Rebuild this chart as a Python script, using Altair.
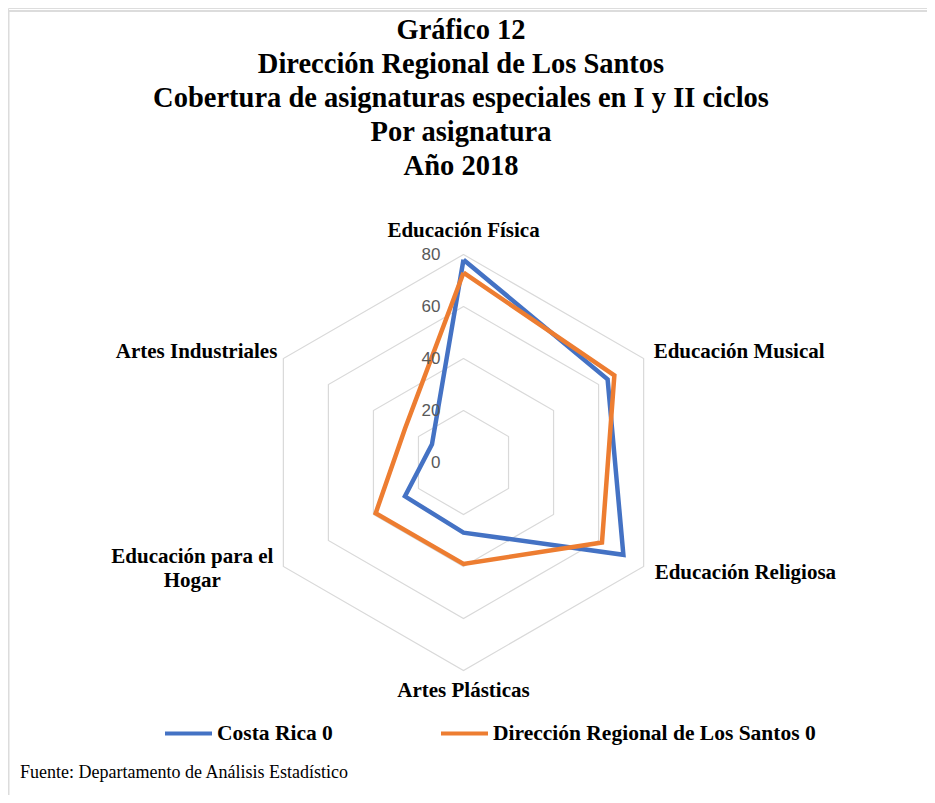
import altair as alt
import pandas as pd

# ---------------- data ----------------
categories = ["Educación Física", "Educación Musical", "Educación Religiosa",
              "Artes Plásticas", "Educación para el Hogar", "Artes Industriales"]
costa_rica = [78, 64, 71, 27, 26, 14]
los_santos = [73, 67, 61.5, 39, 39, 26]
series_names = ["Costa Rica 0", "Dirección Regional de Los Santos 0"]
ring_values = [20, 40, 60, 80]
tick_values = [0, 20, 40, 60, 80]
title_lines = ["Gráfico 12", "Dirección Regional de Los Santos",
               "Cobertura  de asignaturas  especiales en I y II ciclos",
               "Por asignatura", "Año 2018"]
source_text = "Fuente: Departamento de Análisis  Estadístico"

colors = ["#4472C4", "#ED7D31"]
n = len(categories)

# long tables (closing each polygon by repeating the first category)
rows = []
for name, vals in zip(series_names, [costa_rica, los_santos]):
    for i in range(n + 1):
        rows.append({"serie": name, "idx": i, "cat": categories[i % n], "value": vals[i % n]})
series_df = pd.DataFrame(rows)

grid_rows = []
for r in ring_values:
    for i in range(n + 1):
        grid_rows.append({"ring": r, "idx": i})
grid_df = pd.DataFrame(grid_rows)

tick_df = pd.DataFrame({"value": tick_values})
cat_df = pd.DataFrame({"cat": categories, "idx": list(range(n)), "value": 80})

# ---------------- geometry ----------------
W, H = 919, 787
PX = 2.6               # pixels per unit
CX, CY = 455.5, 454.5  # centre in plot coordinates
x_dom = [-CX / PX, (W - CX) / PX]
y_dom = [-(H - CY) / PX, CY / PX]
xs = alt.Scale(domain=x_dom, nice=False, zero=False)
ys = alt.Scale(domain=y_dom, nice=False, zero=False)

X = alt.X("px:Q", scale=xs, axis=None)
Y = alt.Y("py:Q", scale=ys, axis=None)

grid = alt.Chart(grid_df).mark_line(color="#D9D9D9", strokeWidth=1.2).encode(
    x=X, y=Y, detail="ring:N", order="idx:Q"
).transform_calculate(ang="datum.idx * PI / 3").transform_calculate(
    px="datum.ring * sin(datum.ang)", py="datum.ring * cos(datum.ang)")

lines = alt.Chart(series_df).mark_line(strokeWidth=4.5, strokeJoin="miter").encode(
    x=X, y=Y, order="idx:Q",
    color=alt.Color("serie:N",
                    scale=alt.Scale(domain=series_names, range=colors),
                    legend=alt.Legend(title=None, orient="none", direction="horizontal",
                                      columns=2, legendX=155, legendY=700,
                                      symbolType="stroke", symbolSize=2209,
                                      symbolStrokeWidth=4, labelOffset=3,
                                      columnPadding=100,
                                      labelFont="Liberation Serif", labelFontSize=21.5,
                                      labelFontWeight="bold", labelColor="black",
                                      labelLimit=600)),
).transform_calculate(ang="datum.idx * PI / 3").transform_calculate(
    px="datum.value * sin(datum.ang)", py="datum.value * cos(datum.ang)")

ticks = alt.Chart(tick_df).mark_text(align="right", baseline="middle", dx=-23,
                                     font="Liberation Sans", fontSize=17,
                                     color="#595959").encode(
    x=X, y=Y, text="value:Q"
).transform_calculate(px="0", py="datum.value")

label_styles = [
    ("Educación Física", "center", 0, -24),
    ("Educación Musical", "left", 10, -7),
    ("Educación Religiosa", "left", 11, 6),
    ("Artes Plásticas", "center", 0, 20),
    ("Educación para el Hogar", "center", -91, -10),
    ("Artes Industriales", "right", -6, -7),
]
label_layers = []
for cat, al, ddx, ddy in label_styles:
    lay = alt.Chart(cat_df).mark_text(
        align=al, baseline="middle", dx=ddx, dy=ddy, lineBreak="\n", lineHeight=24,
        font="Liberation Serif", fontSize=21, fontWeight="bold", color="black"
    ).encode(x=X, y=Y, text="lab:N").transform_filter(
        alt.datum.cat == cat
    ).transform_calculate(
        lab="replace(datum.cat, 'el Hogar', 'el\\nHogar')",
        ang="datum.idx * PI / 3"
    ).transform_calculate(
        px="datum.value * sin(datum.ang)", py="datum.value * cos(datum.ang)")
    label_layers.append(lay)

title = alt.Chart(alt.Data(values=[{"t": "\n".join(title_lines)}])).mark_text(
    align="center", baseline="middle", lineBreak="\n", lineHeight=34,
    font="Liberation Serif", fontSize=28.5, fontWeight="bold", color="black"
).encode(x=alt.value(453), y=alt.value(22), text="t:N")

source = alt.Chart(alt.Data(values=[{"t": source_text}])).mark_text(
    align="left", baseline="middle", font="Liberation Serif", fontSize=18, color="black"
).encode(x=alt.value(12), y=alt.value(765), text="t:N")

border_top = alt.Chart(alt.Data(values=[{"a": 1}])).mark_rule(color="#DCDCDC", strokeWidth=2).encode(
    x=alt.value(0), x2=alt.value(919), y=alt.value(3))
border_left = alt.Chart(alt.Data(values=[{"a": 1}])).mark_rule(color="#DCDCDC", strokeWidth=1.5).encode(
    x=alt.value(0.75), y=alt.value(3), y2=alt.value(787))

chart = alt.layer(border_top, border_left, grid, lines, ticks, *label_layers, title, source).properties(
    width=W, height=H,
    autosize=alt.AutoSizeParams(type="none"),
    padding={"left": 0, "top": 0, "right": 0, "bottom": 0},
).configure_view(strokeWidth=0).configure(background="white")

chart.save("out.html", embed_options={"renderer": "svg", "actions": False})
